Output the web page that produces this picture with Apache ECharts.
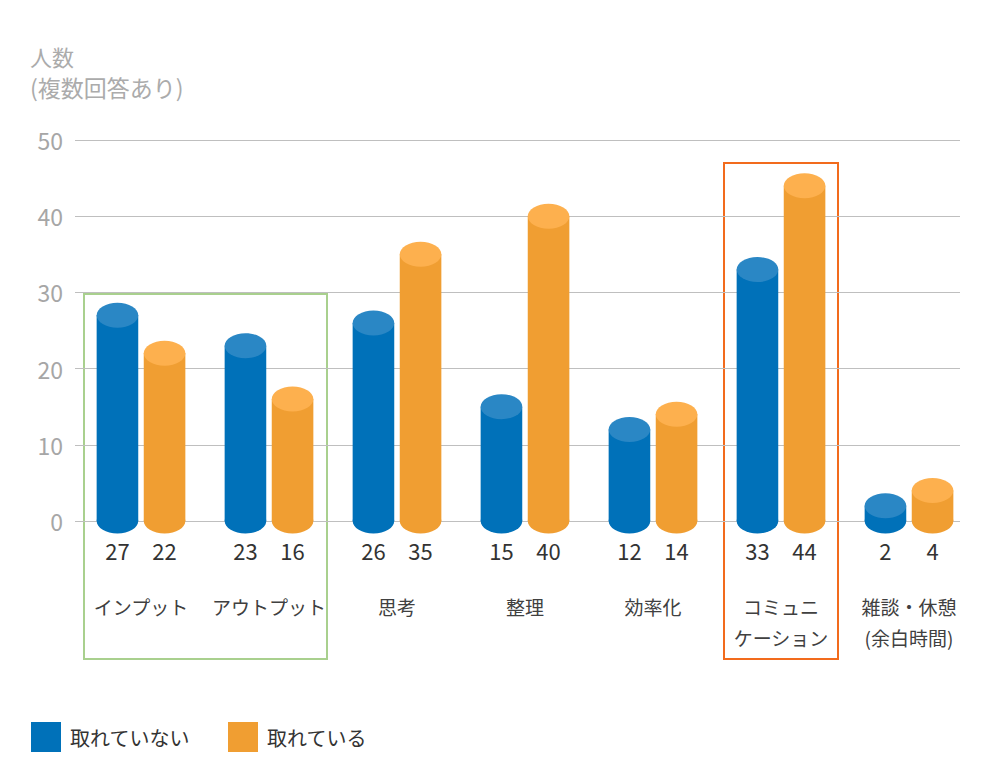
<!DOCTYPE html>
<html><head><meta charset="utf-8">
<script src="https://cdn.jsdelivr.net/npm/echarts@6/dist/echarts.min.js"></script>
<style>html,body{margin:0;padding:0;background:#fff}#c{width:1000px;height:783px}</style>
</head><body><div id="c"></div>
<script>
const categories = ['インプット','アウトプット','思考','整理','効率化','コミュニ\nケーション','雑談・休憩\n(余白時間)'];
const notTaken = [27,23,26,15,12,33,2];
const taken = [22,16,35,40,14,44,4];
const seriesNames = ['取れていない','取れている'];
const yTicks = {min:0, max:50, interval:10};
const yTitle = ['人数', '(複数回答あり)'];

const FONT = '"Noto Sans CJK JP", "Noto Sans", sans-serif';
const palette = [
  {body:'#0071b9', top:'#2a87c5'},
  {body:'#f09e32', top:'#fdb04e'}
];

function makeRender(si){
  return function(params, api){
    const idx = api.value(0), val = api.value(1);
    const top = api.coord([idx, val]);
    const base = api.coord([idx, 0]);
    const band = api.size([1,0])[0];
    const w = band * 0.325;
    const off = (si === 0 ? -1 : 1) * band * 0.184;
    const cx = top[0] + off;
    const ry = 12.5;
    const c = palette[si];
    return {type:'group', children:[
      {type:'ellipse', shape:{cx:cx, cy:base[1], rx:w/2, ry:ry}, style:{fill:c.body}},
      {type:'rect', shape:{x:cx-w/2, y:top[1], width:w, height:base[1]-top[1]}, style:{fill:c.body}},
      {type:'ellipse', shape:{cx:cx, cy:top[1], rx:w/2, ry:ry}, style:{fill:c.top}},
      {type:'text', style:{text:String(val), x:cx, y:base[1]+29, align:'center', verticalAlign:'middle',
        fill:'#333', fontSize:22, fontFamily:FONT}}
    ]};
  };
}

const chart = echarts.init(document.getElementById('c'), null, {renderer:'svg'});
chart.setOption({
  animation:false,
  textStyle:{fontFamily:FONT},
  grid:[
    {left:75, right:40, top:140, bottom:262},
    {left:77, right:27, top:140, bottom:262}
  ],
  xAxis:[
    {gridIndex:0, type:'value', show:false, min:0, max:1},
    {gridIndex:1, type:'category', data:categories,
     axisLine:{show:false}, axisTick:{show:false},
     axisLabel:{margin:70, fontSize:19, lineHeight:31, color:'#404040', fontFamily:FONT, interval:0}}
  ],
  yAxis:[
    {gridIndex:0, type:'value', min:yTicks.min, max:yTicks.max, interval:yTicks.interval,
     axisLine:{show:false}, axisTick:{show:false},
     axisLabel:{margin:12, fontSize:23, color:'#a6a6a6', fontFamily:FONT},
     splitLine:{lineStyle:{color:'#bfbfbf', width:1}}},
    {gridIndex:1, type:'value', min:yTicks.min, max:yTicks.max, interval:yTicks.interval, show:false,
     splitLine:{show:false}}
  ],
  legend:{left:31, top:722, padding:0, itemWidth:30, itemHeight:30, itemGap:38, icon:'rect',
    textStyle:{fontSize:20, color:'#333', fontFamily:FONT, padding:[0,0,0,4]},
    data:seriesNames},
  series:[
    {name:seriesNames[0], type:'custom', xAxisIndex:1, yAxisIndex:1, itemStyle:{color:palette[0].body},
     renderItem:makeRender(0), encode:{x:0,y:1}, data:notTaken.map((v,i)=>[i,v])},
    {name:seriesNames[1], type:'custom', xAxisIndex:1, yAxisIndex:1, itemStyle:{color:palette[1].body},
     renderItem:makeRender(1), encode:{x:0,y:1}, data:taken.map((v,i)=>[i,v])}
  ],
  graphic:[
    {type:'text', left:30, top:45, style:{text:yTitle[0], fontSize:22, fill:'#ababab', fontFamily:FONT}},
    {type:'text', left:30, top:75, style:{text:yTitle[1], fontSize:23, fill:'#ababab', fontFamily:FONT}},
    {type:'rect', shape:{x:84, y:294, width:243, height:365}, style:{fill:'none', stroke:'#a9d08e', lineWidth:2}},
    {type:'rect', shape:{x:724, y:163, width:114, height:496}, style:{fill:'none', stroke:'#f26b1d', lineWidth:2}}
  ]
});
</script>
</body></html>
